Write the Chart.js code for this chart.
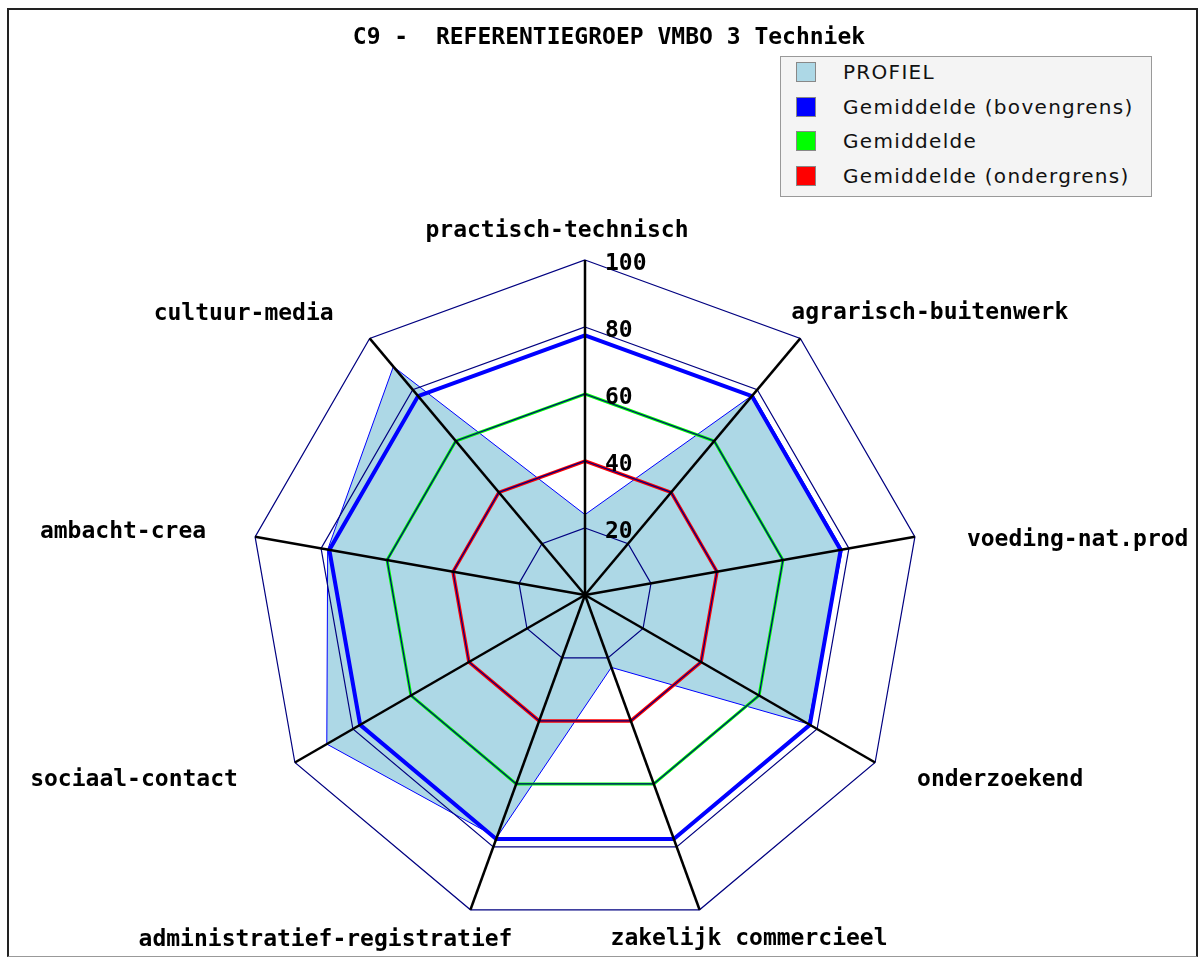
<!DOCTYPE html>
<html>
<head>
<meta charset="utf-8">
<title>C9 - REFERENTIEGROEP VMBO 3 Techniek</title>
<script src="https://cdn.jsdelivr.net/npm/chart.js@4.4.1/dist/chart.umd.min.js"></script>
<style>
  html, body { margin: 0; padding: 0; background: #fff; }
  #wrap { position: relative; width: 1200px; height: 958px; overflow: hidden; }
  #chart { position: absolute; left: 0; top: 0; }
  #frame {
    position: absolute; left: 7px; top: 8px; width: 1191px; height: 949px;
    box-sizing: border-box; border: 2px solid #222; border-bottom: 1px solid #999;
    pointer-events: none;
  }
  #title {
    position: absolute; left: 0; top: 23px; width: 1218px; text-align: center;
    font: bold 23px "DejaVu Sans Mono", monospace; white-space: pre; color: #000;
  }
  #legend {
    position: absolute; left: 780px; top: 56px; width: 372px; height: 141px;
    box-sizing: border-box; background: #f4f4f4; border: 1px solid #999;
  }
  .item {
    display: flex; align-items: center; height: 34.5px;
    font: 20px "DejaVu Sans", sans-serif; letter-spacing: 1.3px; color: #111;
  }
  .item:first-child { margin-top: -2px; }
  .swatch {
    width: 20px; height: 20px; box-sizing: border-box; border: 1px solid #888;
    margin-left: 15px; margin-right: 27px;
  }
</style>
</head>
<body>
<div id="wrap">
  <canvas id="chart" width="1200" height="958"></canvas>
  <div id="frame"></div>
  <div id="title">C9 -  REFERENTIEGROEP VMBO 3 Techniek</div>
  <div id="legend"></div>
</div>
<script>
const categories = [
  "practisch-technisch",
  "agrarisch-buitenwerk",
  "voeding-nat.prod",
  "onderzoekend",
  "zakelijk commercieel",
  "administratief-registratief",
  "sociaal-contact",
  "ambacht-crea",
  "cultuur-media",
];
const seriesNames = [
  "PROFIEL",
  "Gemiddelde (bovengrens)",
  "Gemiddelde",
  "Gemiddelde (ondergrens)",
];
const profiel = [24, 78, 78, 77, 23, 77, 89, 78, 89];
const bovengrens = [77.5, 77.5, 77.5, 77.5, 77.5, 77.5, 77.5, 77.5, 77.5];
const gemiddelde = [60, 60, 60, 60, 60, 60, 60, 60, 60];
const ondergrens = [40, 40, 40, 40, 40, 40, 40, 40, 40];
const tickValues = [0, 20, 40, 60, 80, 100];

const seriesColors = ["#add8e6", "#0000ff", "#00ff00", "#ff0000"];

// where each axis name sits, relative to the end of its spoke
const labelNudges = [
  ["center", -28, -29],
  ["left", -9, -25],
  ["left", 52, 3],
  ["left", 42, 18],
  ["left", -89, 29],
  ["right", 42, 30],
  ["right", -57, 18],
  ["right", -49, -5],
  ["right", -36, -24],
];

const webLabels = {
  id: "webLabels",
  afterDraw(chart) {
    const scale = chart.scales.r;
    const ctx = chart.ctx;
    ctx.save();
    ctx.font = 'bold 23px "DejaVu Sans Mono", monospace';
    ctx.fillStyle = "#000";
    ctx.textBaseline = "middle";

    chart.data.labels.forEach((label, i) => {
      const pos = scale.getPointPosition(i, scale.drawingArea);
      const [align, dx, dy] = labelNudges[i];
      ctx.textAlign = align;
      ctx.fillText(label, pos.x + dx, pos.y + dy);
    });

    ctx.textAlign = "left";
    scale.ticks.forEach((tick) => {
      if (tick.value === 0) return;
      const y = scale.yCenter - scale.getDistanceFromCenterForValue(tick.value);
      ctx.fillText(String(tick.value), scale.xCenter + 20, y + 4);
    });
    ctx.restore();
  },
};

const legendBox = document.getElementById("legend");
seriesNames.forEach((name, i) => {
  const item = document.createElement("div");
  item.className = "item";
  const swatch = document.createElement("span");
  swatch.className = "swatch";
  swatch.style.background = seriesColors[i];
  item.appendChild(swatch);
  item.appendChild(document.createTextNode(name));
  legendBox.appendChild(item);
});

new Chart(document.getElementById("chart"), {
  type: "radar",
  data: {
    labels: categories,
    datasets: [
      {
        label: seriesNames[0],
        data: profiel,
        fill: true,
        backgroundColor: seriesColors[0],
        borderColor: "#0000ff",
        borderWidth: 1,
        order: 4,
      },
      {
        label: seriesNames[1],
        data: bovengrens,
        fill: false,
        borderColor: seriesColors[1],
        borderWidth: 4,
        order: 3,
      },
      {
        label: seriesNames[2],
        data: gemiddelde,
        fill: false,
        borderColor: seriesColors[2],
        borderWidth: 3,
        order: 2,
      },
      {
        label: seriesNames[3],
        data: ondergrens,
        fill: false,
        borderColor: seriesColors[3],
        borderWidth: 3.5,
        order: 1,
      },
    ],
  },
  options: {
    responsive: false,
    animation: false,
    events: [],
    layout: {
      padding: { left: 0, right: 30, top: 260, bottom: 28 },
    },
    elements: {
      point: { radius: 0, hoverRadius: 0 },
      line: { tension: 0 },
    },
    plugins: {
      legend: { display: false },
      title: { display: false },
      tooltip: { enabled: false },
    },
    scales: {
      r: {
        min: 0,
        max: 100,
        afterBuildTicks: (axis) => {
          axis.ticks = tickValues.map((v) => ({ value: v }));
        },
        ticks: { display: false, z: 1 },
        pointLabels: { display: false },
        grid: { color: "#000080", lineWidth: 1.2, z: 1 },
        angleLines: { color: "#000", lineWidth: 2.5 },
      },
    },
  },
  plugins: [webLabels],
});
</script>
</body>
</html>
